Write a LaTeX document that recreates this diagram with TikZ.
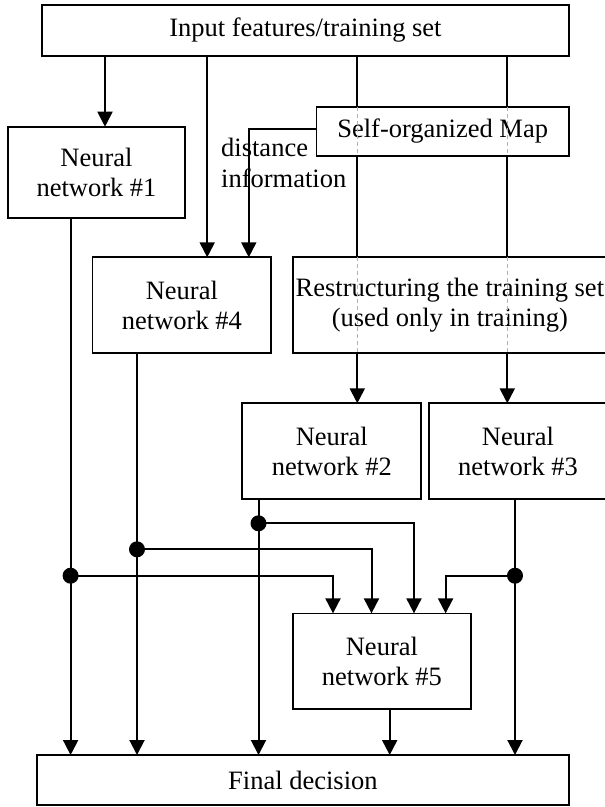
\documentclass[tikz,border=0pt]{standalone}
\usepackage{fontspec}
\setmainfont{Liberation Serif}
\usetikzlibrary{arrows.meta}
\begin{document}
\begin{tikzpicture}[x=1pt,y=-1pt,
  box/.style={draw, line width=1.7pt, inner sep=0pt, outer sep=0pt, align=center,
    font=\fontsize{26.5}{30.5}\selectfont},
  arr/.style={line width=2pt, -{Triangle[length=15pt,width=15pt]}},
  wire/.style={line width=2pt},
  ghost/.style={line width=1.2pt, draw=black!30, dash pattern=on 4pt off 3pt},
  dot/.style={circle, fill=black, minimum size=16pt, inner sep=0pt, outer sep=0pt},
  lbl/.style={inner sep=0pt, align=left, font=\fontsize{26.5}{30.5}\selectfont}]
\useasboundingbox (0,0) rectangle (605,807);
\clip (0,0) rectangle (605,807);
\fill[white] (0,0) rectangle (605,807);

% boxes
\node[box, minimum width=527.3pt, minimum height=51pt] (inp) at (305.4,30.2) {Input features/training set};
\node[box, minimum width=177.5pt, minimum height=91.6pt] (nn1) at (96.5,172.5) {Neural\\network \#1};
\node[box, minimum width=252.6pt, minimum height=48.4pt] (som) at (442.7,131.5) {Self-organized Map};
\node[box, minimum width=178.6pt, minimum height=96pt] (nn4) at (181.9,305.3) {Neural\\network \#4};
\node[box, minimum width=314.2pt, minimum height=96pt] (rst) at (449.9,305.3) {Restructuring the training set\\(used only in training)};
\node[box, minimum width=179pt, minimum height=96pt] (nn2) at (331.8,451.3) {Neural\\network \#2};
\node[box, minimum width=178pt, minimum height=96pt] (nn3) at (518,451.3) {Neural\\network \#3};
\node[box, minimum width=178.2pt, minimum height=95.7pt] (nn5) at (381.9,661.2) {Neural\\network \#5};
\node[box, minimum width=532.3pt, minimum height=50pt] (fin) at (302.9,780) {Final decision};

\node[lbl, anchor=west] (dist) at (221,163) {distance\\information};

% columns and rows
\coordinate (c1) at (105,0);
\coordinate (c4) at (207.2,0);
\coordinate (cd) at (248.8,0);
\coordinate (c2) at (357.3,0);
\coordinate (c3) at (507.3,0);
\coordinate (rd) at (0,129.3);
\coordinate (o1) at (70.6,0);
\coordinate (o4) at (137,0);
\coordinate (o2) at (258.5,0);
\coordinate (o3) at (515,0);
\coordinate (o5) at (389.7,0);
\coordinate (i1) at (333,0);
\coordinate (i4) at (371.5,0);
\coordinate (i2) at (414,0);
\coordinate (i3) at (445.6,0);
\coordinate (r2) at (0,523.3);
\coordinate (r4) at (0,549.3);
\coordinate (r1) at (0,575.7);

% top inputs
\draw[arr] (inp.south -| c1) -- (nn1.north -| c1);
\draw[arr] (inp.south -| c4) -- (nn4.north -| c4);
\draw[arr] (som.west |- rd) -| (nn4.north -| cd);

\draw[wire] (inp.south -| c2) -- (som.north -| c2);
\draw[ghost] (som.north -| c2) -- (som.south -| c2);
\draw[wire] (som.south -| c2) -- (rst.north -| c2);
\draw[ghost] (rst.north -| c2) -- (rst.south -| c2);
\draw[arr] (rst.south -| c2) -- (nn2.north -| c2);

\draw[wire] (inp.south -| c3) -- (som.north -| c3);
\draw[ghost] (som.north -| c3) -- (som.south -| c3);
\draw[wire] (som.south -| c3) -- (rst.north -| c3);
\draw[ghost] (rst.north -| c3) -- (rst.south -| c3);
\draw[arr] (rst.south -| c3) -- (nn3.north -| c3);

% outputs to final
\draw[arr] (nn1.south -| o1) -- (fin.north -| o1);
\draw[arr] (nn4.south -| o4) -- (fin.north -| o4);
\draw[arr] (nn2.south -| o2) -- (fin.north -| o2);
\draw[arr] (nn3.south -| o3) -- (fin.north -| o3);
\draw[arr] (nn5.south -| o5) -- (fin.north -| o5);

% branch points
\node[dot] (d1) at (o1 |- r1) {};
\node[dot] (d4) at (o4 |- r4) {};
\node[dot] (d2) at (o2 |- r2) {};
\node[dot] (d3) at (o3 |- r1) {};

\draw[arr] (d1.center) -| (nn5.north -| i1);
\draw[arr] (d4.center) -| (nn5.north -| i4);
\draw[arr] (d2.center) -| (nn5.north -| i2);
\draw[arr] (d3.center) -| (nn5.north -| i3);
\end{tikzpicture}
\end{document}
